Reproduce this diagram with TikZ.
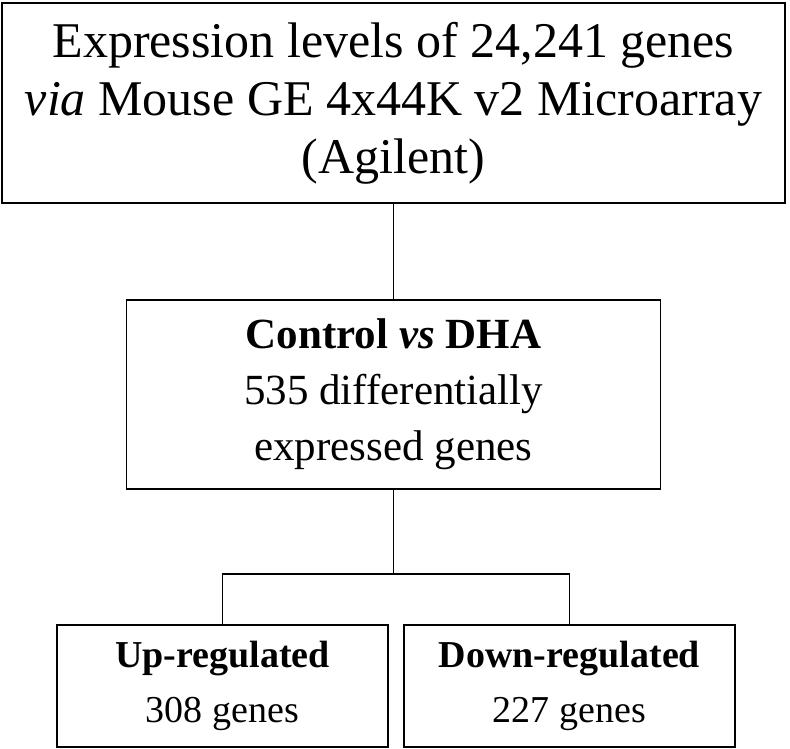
\documentclass[tikz,border=0pt]{standalone}
\usepackage{fontspec}
\setmainfont{Liberation Serif}
\usetikzlibrary{positioning}

\begin{document}
\begin{tikzpicture}[x=1pt,y=1pt,
	box/.style={draw,line width=1.8pt,align=center,inner sep=0pt},
	link/.style={line width=1.8pt}]
	\useasboundingbox (0,0) rectangle (790,-748);
	\node[box,minimum width=783pt,minimum height=200pt,font=\fontsize{50}{58}\selectfont] (expr) at (393.5,-103) {Expression levels of 24,241 genes\\\textit{via} Mouse GE 4x44K v2 Microarray\\(Agilent)};
	\node[box,below=95pt of expr,minimum width=534pt,minimum height=189pt,font=\fontsize{43}{56}\selectfont] (cmp) {\textbf{Control \textit{vs} DHA}\\535 differentially\\expressed genes};
	\node[box,minimum width=331pt,minimum height=122pt,font=\fontsize{38}{55}\selectfont] (up) at (222.5,-686) {\textbf{Up-regulated}\\308 genes};
	\node[box,minimum width=331pt,minimum height=122pt,font=\fontsize{38}{55}\selectfont] (down) at (569.5,-686) {\textbf{Down-regulated}\\227 genes};
	\draw[link] (expr) -- (cmp);
	\draw[link] (cmp.south) -- ++(0,-84) coordinate (fork);
	\draw[link] (up.north) |- (fork) -| (down.north);
\end{tikzpicture}
\end{document}
